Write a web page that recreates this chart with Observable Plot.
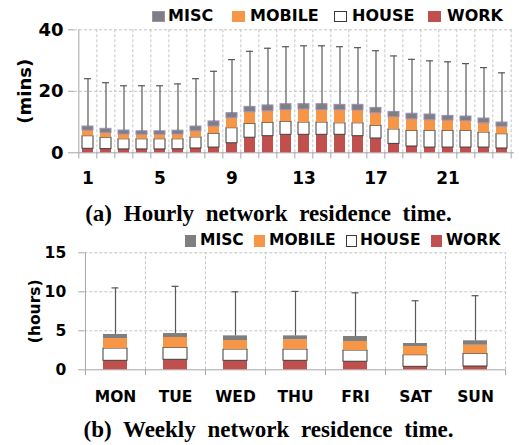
<!DOCTYPE html>
<html><head><meta charset="utf-8">
<script src="https://cdn.jsdelivr.net/npm/d3@7"></script>
<script src="https://cdn.jsdelivr.net/npm/@observablehq/plot@0.6"></script>
<style>
body{margin:0;background:#fff;width:519px;height:445px;overflow:hidden;position:relative;font-family:"DejaVu Sans",sans-serif;font-weight:bold;color:#000;}
#a{position:absolute;left:0;top:0;}
#b{position:absolute;left:0;top:240px;}
.lt{position:absolute;line-height:1;white-space:nowrap;}
.sw{position:absolute;box-sizing:border-box;}
.cap{position:absolute;left:9px;width:519px;font-family:"Liberation Serif",serif;font-size:23px;font-weight:bold;line-height:1;text-align:center;word-spacing:6px;white-space:nowrap;}
</style></head><body>
<div id="a"></div><div id="b"></div>
<div id="legA"></div><div id="legB"></div>
<div class="cap" style="top:201.7px">(a) Hourly network residence time.</div>
<div class="cap" style="top:417.7px">(b) Weekly network residence time.</div>
<script>
// ---- data ----
const hours = ["1","2","3","4","5","6","7","8","9","10","11","12","13","14","15","16","17","18","19","20","21","22","23","24"];
const hourWork   = [1.3,1.2,1.1,1.1,1.1,1.15,1.4,1.7,3.1,4.9,5.4,5.85,5.85,5.85,5.85,5.4,4.65,2.9,2.05,1.7,1.7,1.7,1.7,1.4];
const hourHouse  = [4.1,3.7,3.3,3.3,3.3,3.25,3.6,4.5,4.9,4.5,4.35,4.25,4.0,4.0,3.75,4.2,4.15,4.7,5.1,5.45,5.45,5.45,4.9,4.65];
const hourMobile = [1.8,1.5,1.55,1.45,1.45,1.55,2.0,2.35,3.25,3.8,3.75,3.75,4.25,4.0,4.25,4.15,4.1,4.0,3.75,3.45,3.35,3.15,3.0,2.4];
const hourMisc   = [1.35,1.4,1.3,1.15,1.15,1.25,1.55,1.65,1.65,1.75,1.9,1.95,1.7,1.95,1.75,1.85,1.7,1.7,1.8,1.85,1.5,1.5,1.55,1.4];
const hourMax    = [24.1,22.8,21.8,21.8,21.8,22.4,24.1,26.5,30.3,33.0,34.0,34.5,34.8,34.8,34.5,34.2,33.2,31.5,30.4,29.9,29.6,29.0,27.7,26.0];
const hourTicks  = ["1","5","9","13","17","21"];

const days = ["MON","TUE","WED","THU","FRI","SAT","SUN"];
const dayWork   = [1.15,1.28,1.15,1.15,1.03,0.38,0.42];
const dayHouse  = [1.58,1.54,1.45,1.45,1.44,1.49,1.63];
const dayMobile = [1.27,1.32,1.15,1.25,1.16,1.12,1.1];
const dayMisc   = [0.53,0.51,0.6,0.5,0.64,0.38,0.57];
const dayMax    = [10.5,10.7,10.0,10.05,9.87,8.85,9.5];

const seriesNames = ["WORK","HOUSE","MOBILE","MISC"];
const fills = {WORK:"#c0504d", HOUSE:"#ffffff", MOBILE:"#f79646", MISC:"#7f7f7f"};
const strokesA = {WORK:"none", HOUSE:"#3a3a3a", MOBILE:"none", MISC:"#9b8fc0"};
const strokesB = {WORK:"none", HOUSE:"#3a3a3a", MOBILE:"none", MISC:"none"};

function longData(cats, arrs){
  const out = [];
  cats.forEach((c,i)=>{ seriesNames.forEach((s,j)=>out.push({cat:c, s, v:arrs[j][i]})); });
  return out;
}
function totals(cats, arrs, mx){
  return cats.map((c,i)=>({cat:c, total: arrs.reduce((a,arr)=>a+arr[i],0), max: mx[i]}));
}
const arrsA = [hourWork,hourHouse,hourMobile,hourMisc];
const arrsB = [dayWork,dayHouse,dayMobile,dayMisc];
const longA = longData(hours, arrsA), totA = totals(hours, arrsA, hourMax);
const longB = longData(days, arrsB), totB = totals(days, arrsB, dayMax);

const grid = "#c4c4c4", axisCol = "#a6a6a6", whisk = "#595959";

function chart({cats, long, tot, strokes, width, height, mt, mb, ml, mr, pin, ymax, yticks, ygrid, xticks, yFont, xFont, yPad, xPad, label, labelOffset}){
  const step = (width - ml - mr) / cats.length;
  const last = cats[cats.length-1];
  return Plot.plot({
    width, height, marginTop: mt, marginBottom: mb, marginLeft: ml, marginRight: mr,
    x: {domain: cats, paddingInner: pin, paddingOuter: pin/2, label: null},
    y: {domain: [0, ymax], label: null},
    color: {type: "identity"},
    style: {fontFamily: "DejaVu Sans", fontWeight: "bold", color: "#000", background: "transparent"},
    marks: [
      Plot.ruleY(ygrid, {stroke: grid, strokeDasharray: "3,2"}),
      Plot.ruleX(cats.slice(1), {x: d => d, y1: 0, y2: ymax, dx: -step/2, stroke: grid, strokeDasharray: "3,2"}),
      Plot.ruleX([last], {x: d => d, y1: 0, y2: ymax, dx: step/2, stroke: grid, strokeDasharray: "3,2"}),
      Plot.ruleX([cats[0]], {x: d => d, y1: 0, y2: ymax, dx: -step/2, stroke: axisCol}),
      Plot.ruleX(cats, {x: d => d, y1: 0, y2: -ymax*0.05, dx: -step/2, stroke: axisCol}),
      Plot.ruleX([last], {x: d => d, y1: 0, y2: -ymax*0.05, dx: step/2, stroke: axisCol}),
      Plot.ruleY([0], {stroke: axisCol}),
      Plot.barY(long, {x: "cat", y: "v", fill: d => fills[d.s], stroke: d => strokes[d.s], strokeWidth: 1}),
      Plot.ruleX(tot, {x: "cat", y1: "total", y2: "max", stroke: whisk, strokeWidth: 1.2}),
      Plot.tickY(tot, {x: "cat", y: "max", stroke: whisk, strokeWidth: 1.2, insetLeft: (step*(1-pin)-7)/2, insetRight: (step*(1-pin)-7)/2}),
      Plot.axisY({ticks: yticks, tickSize: 6, tickPadding: yPad, stroke: axisCol, fontSize: yFont, label, labelAnchor: "center", labelOffset, labelArrow: "none"}),
      Plot.axisX({ticks: xticks, tickSize: 0, tickPadding: xPad, fontSize: xFont, label: null})
    ]
  });
}

document.getElementById("a").append(chart({
  cats: hours, long: longA, tot: totA, strokes: strokesA,
  width: 519, height: 190, mt: 29.3, mb: 37.7, ml: 74, mr: 5, pin: 0.4,
  ymax: 40, yticks: [0,20,40], ygrid: [20,40], xticks: hourTicks,
  yFont: 18, xFont: 17, yPad: 5, xPad: 19.5, label: "(mins)", labelOffset: 56
}));
document.getElementById("b").append(chart({
  cats: days, long: longB, tot: totB, strokes: strokesB,
  width: 519, height: 170, mt: 12.3, mb: 40.7, ml: 84.3, mr: 14, pin: 0.6,
  ymax: 15, yticks: [0,5,10,15], ygrid: [5,10,15], xticks: days,
  yFont: 15.5, xFont: 15.5, yPad: 12.6, xPad: 21.3, label: "(hours)", labelOffset: 56
}));

// ---- legends ----
function legend(el, items, font, top, swTop, swW, swH, miscStroke){
  items.forEach(it => {
    const sw = document.createElement("div");
    sw.className = "sw";
    const border = it.s === "HOUSE" ? "1px solid #3a3a3a" : (it.s === "MISC" && miscStroke ? "1px solid " + miscStroke : "none");
    sw.style.cssText = `left:${it.sx}px;top:${swTop}px;width:${swW}px;height:${swH}px;background:${fills[it.s]};border:${border};`;
    el.append(sw);
    const t = document.createElement("div");
    t.className = "lt";
    t.style.cssText = `left:${it.tx}px;top:${top}px;font-size:${font}px;`;
    t.textContent = it.s;
    el.append(t);
  });
}
legend(document.getElementById("legA"), [
  {s:"MISC", sx:152, tx:168}, {s:"MOBILE", sx:232, tx:250}, {s:"HOUSE", sx:334, tx:352}, {s:"WORK", sx:428, tx:447}
], 16, 8.2, 11, 13, 10.5, "#9b8fc0");
legend(document.getElementById("legB"), [
  {s:"MISC", sx:185, tx:200}, {s:"MOBILE", sx:254, tx:269}, {s:"HOUSE", sx:346, tx:360}, {s:"WORK", sx:431, tx:446}
], 15.5, 233.4, 235, 11, 11.5, null);
</script>
</body></html>
